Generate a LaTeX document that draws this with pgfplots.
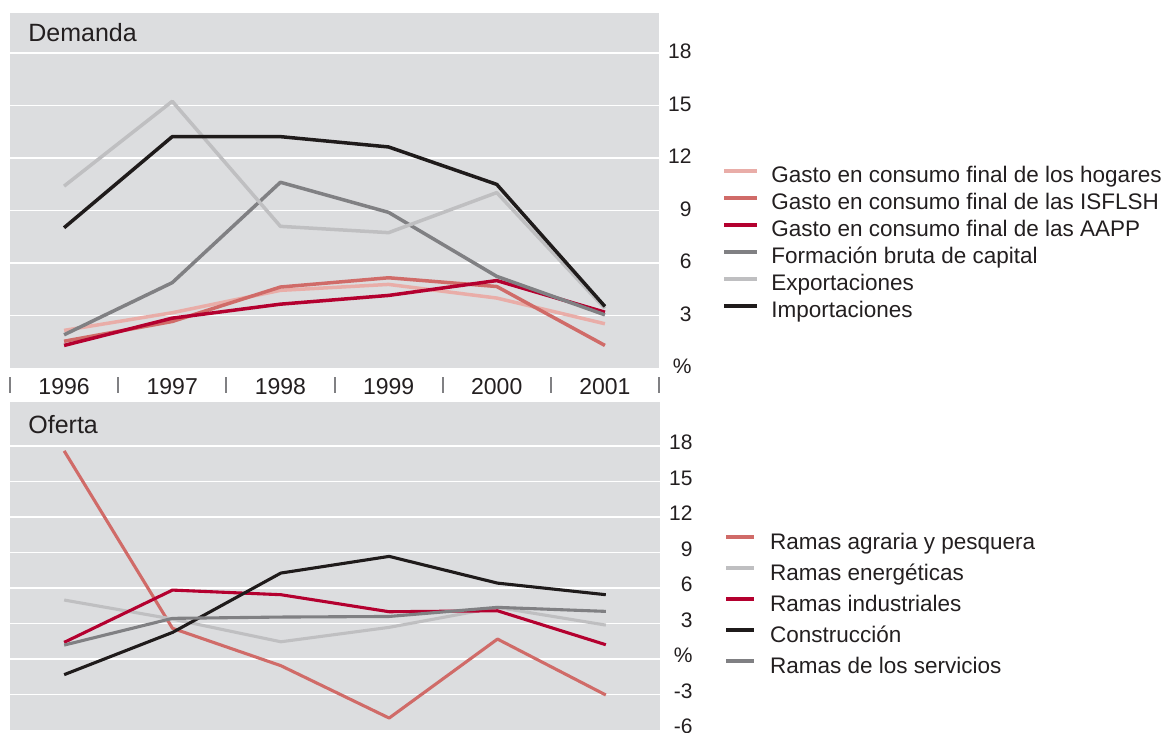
\documentclass[border=0pt]{standalone}
\usepackage{fontspec}
\setmainfont{Liberation Sans}
\usepackage{pgfplots}
\usepackage{pgfplotstable}
\pgfplotsset{compat=1.18}
\definecolor{bg}{HTML}{DCDDDF}
\definecolor{cHog}{HTML}{E9ADA8}
\definecolor{cIsf}{HTML}{D06B68}
\definecolor{cAap}{HTML}{B4002F}
\definecolor{cFbc}{HTML}{808083}
\definecolor{cExp}{HTML}{BFBFC1}
\definecolor{cImp}{HTML}{1F1B1B}
\definecolor{txt}{HTML}{231F20}

\pgfplotstableread{
x hog isf aap fbc exp imp
0 2.15 1.53 1.29 1.90 10.40 8.02
1 3.16 2.66 2.85 4.88 15.25 13.23
2 4.44 4.63 3.65 10.62 8.10 13.23
3 4.78 5.16 4.15 8.90 7.74 12.64
4 4.00 4.66 5.00 5.24 10.03 10.50
5 2.53 1.29 3.19 3.04 3.40 3.52
}\demanda

\pgfplotstableread{
x agr ene ind con ser
0 17.60 4.99 1.41 -1.32 1.18
1 2.60 3.38 5.83 2.25 3.44
2 -0.56 1.46 5.44 7.27 3.55
3 -4.99 2.68 4.00 8.68 3.60
4 1.69 4.37 4.08 6.42 4.37
5 -3.04 2.87 1.21 5.44 4.03
}\oferta

\begin{document}
\begin{tikzpicture}
\path[use as bounding box] (0,0) rectangle (581pt,-366.5pt);
\pgfplotsset{
  panel/.style={
    scale only axis, xmin=-0.5, xmax=5.5,
    axis background/.style={fill=bg},
    axis line style={draw=none},
    major tick length=0pt, minor tick length=0pt,
    ymajorgrids, grid style={white, line width=0.8pt},
    yticklabel pos=right,
    yticklabel style={anchor=east, inner sep=0pt, xshift=16.5pt,
      font=\fontsize{10.5}{12}\selectfont, text=txt},
    every axis plot/.append style={line width=1.75pt, line join=round},
    legend cell align=left,
  },
}
% ---------------- Demanda ----------------
\begin{axis}[panel,
  at={(5pt,-184pt)}, anchor=south west,
  width=324.5pt, height=177.5pt,
  ymin=0, ymax=20.3,
  ytick={3,6,...,18},
  yticklabels={3,6,9,12,15,18},
  yticklabel style={yshift=0.8pt},
  extra y ticks={0}, extra y tick labels={\%},
  extra y tick style={grid=none},
  xtick={0,...,5},
  xticklabels={1996,1997,1998,1999,2000,2001},
  xticklabel style={anchor=north, inner sep=0pt, yshift=-5pt,
    font=\fontsize{11.5}{13}\selectfont, text=txt},
  legend image code/.code={\draw[#1,line width=2pt] (0pt,3pt) -- (16.5pt,3pt);},
  legend style={at={(axis description cs:1.097,0.349)}, anchor=west,
    draw=none, fill=none, inner sep=0pt, row sep=3pt, column sep=6pt,
    nodes={inner sep=0pt, text height=8pt, text depth=2.5pt},
    font=\fontsize{11.25}{13}\selectfont, text=txt},
]
\addplot[cHog] table[x=x,y=hog] {\demanda};
\addlegendentry{Gasto en consumo final de los hogares}
\addplot[cIsf] table[x=x,y=isf] {\demanda};
\addlegendentry{Gasto en consumo final de las ISFLSH}
\addplot[cAap] table[x=x,y=aap] {\demanda};
\addlegendentry{Gasto en consumo final de las AAPP}
\addplot[cFbc] table[x=x,y=fbc] {\demanda};
\addlegendentry{Formación bruta de capital}
\addplot[cExp] table[x=x,y=exp] {\demanda};
\addlegendentry{Exportaciones}
\addplot[cImp] table[x=x,y=imp] {\demanda};
\addlegendentry{Importaciones}
\node[anchor=base west, inner sep=0pt, font=\fontsize{12.5}{14}\selectfont, text=txt]
  at (rel axis cs:0,1) [xshift=9pt, yshift=-14.35pt] {Demanda};
\end{axis}
% separators below the top panel
\foreach \x in {10,118.2,226.4,334.6,442.8,551,659.2}
  \draw[cFbc, line width=1pt] ({\x*0.5pt},-188.5pt) -- ++(0,-8pt);
% ---------------- Oferta ----------------
\begin{axis}[panel,
  at={(5pt,-365pt)}, anchor=south west,
  width=325pt, height=163.8pt,
  ymin=-6, ymax=21.7,
  ytick={-3,0,3,6,9,12,15,18},
  yticklabels={-3,\%,3,6,9,12,15,18},
  yticklabel style={yshift=1.8pt},
  extra y ticks={-6}, extra y tick labels={-6},
  extra y tick style={grid=none},
  xtick=\empty,
  legend image code/.code={\draw[#1,line width=2pt] (0pt,3.3pt) -- (14pt,3.3pt);},
  legend style={at={(axis description cs:1.098,0.379)}, anchor=west,
    draw=none, fill=none, inner sep=0pt, row sep=5pt, column sep=7pt,
    nodes={inner sep=0pt, text height=8pt, text depth=2.5pt},
    font=\fontsize{11.25}{13}\selectfont, text=txt},
]
\addplot[cIsf, line width=1.55pt] table[x=x,y=agr] {\oferta};
\addlegendentry{Ramas agraria y pesquera}
\addplot[cExp, line width=1.55pt] table[x=x,y=ene] {\oferta};
\addlegendentry{Ramas energéticas}
\addplot[cAap, line width=1.55pt] table[x=x,y=ind] {\oferta};
\addlegendentry{Ramas industriales}
\addplot[cImp, line width=1.55pt] table[x=x,y=con] {\oferta};
\addlegendentry{Construcción}
\addplot[cFbc, line width=1.55pt] table[x=x,y=ser] {\oferta};
\addlegendentry{Ramas de los servicios}
\node[anchor=base west, inner sep=0pt, font=\fontsize{12.5}{14}\selectfont, text=txt]
  at (rel axis cs:0,1) [xshift=9pt, yshift=-15.3pt] {Oferta};
\end{axis}
\end{tikzpicture}
\end{document}
